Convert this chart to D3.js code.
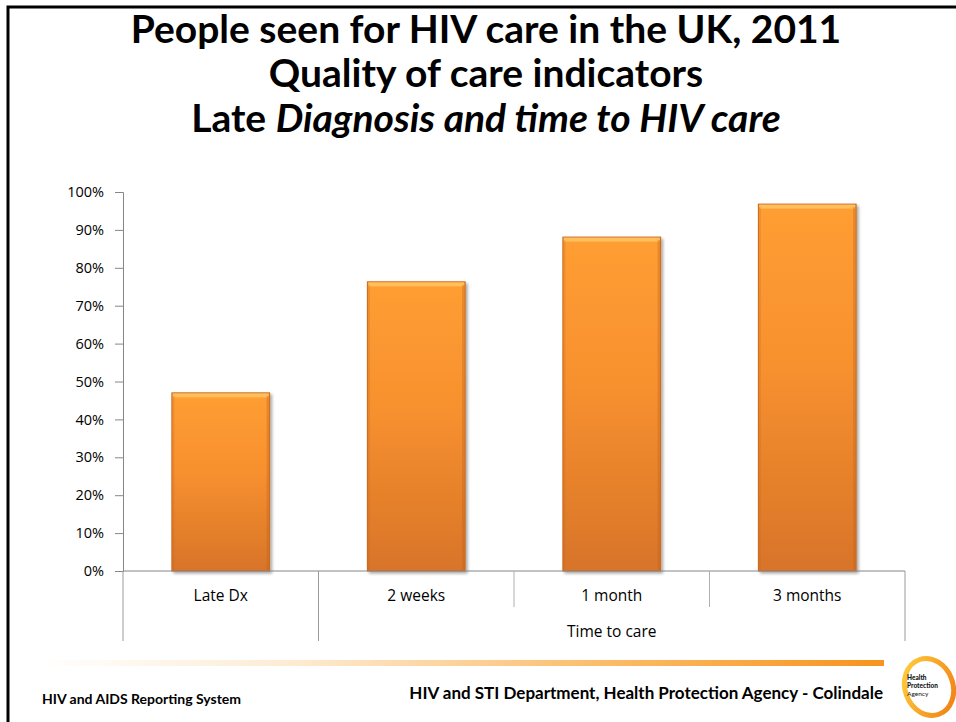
<!DOCTYPE html>
<html>
<head>
<meta charset="utf-8">
<script src="https://cdn.jsdelivr.net/npm/d3@7"></script>
<style>
  html, body { margin: 0; padding: 0; background: #fff; }
  svg { display: block; }
</style>
</head>
<body>
<svg id="chart" width="956" height="722"></svg>
<script>
// Chart data
const categories = ["Late Dx", "2 weeks", "1 month", "3 months"];
const values = [0.47, 0.763, 0.881, 0.968];
const yTicks = [0, 0.1, 0.2, 0.3, 0.4, 0.5, 0.6, 0.7, 0.8, 0.9, 1.0];
const groupLabel = "Time to care";
const titleLines = ["People seen for HIV care in the UK, 2011", "Quality of care indicators"];
const footerLeft = "HIV and AIDS Reporting System";
const footerRight = "HIV and STI Department, Health Protection Agency - Colindale";
const logoLines = ["Health", "Protection", "Agency"];

const svg = d3.select("#chart");
const W = 956, H = 722;
const titleFont = "Lato, 'Open Sans', sans-serif";
const bodyFont = "'Open Sans', 'Noto Sans', sans-serif";

// Slide frame
svg.append("path")
  .attr("d", `M8,${H} L8,7 L${W},7`)
  .attr("fill", "none").attr("stroke", "#000").attr("stroke-width", 3);

// Title
const title = svg.append("g").attr("font-family", titleFont).attr("font-weight", 700)
  .attr("fill", "#000").attr("text-anchor", "middle");
title.append("text").attr("x", 486).attr("y", 43).attr("font-size", 39).text(titleLines[0]);
title.append("text").attr("x", 486).attr("y", 87).attr("font-size", 39).text(titleLines[1]);
const t3 = title.append("text").attr("x", 486).attr("y", 132).attr("font-size", 39);
t3.append("tspan").text("Late ");
t3.append("tspan").attr("font-style", "italic").text("Diagnosis and time to HIV care");

// Scales
const margin = { left: 123, right: 905, top: 192, bottom: 571 };
const x = d3.scaleBand().domain(categories).range([margin.left, margin.right]).paddingInner(0).paddingOuter(0);
const y = d3.scaleLinear().domain([0, 1]).range([margin.bottom, margin.top]);
const barPad = 0.25; // fraction of the band left empty on each side

// Gradients
const defs = svg.append("defs");
const g1 = defs.append("linearGradient").attr("id", "barFill").attr("x1", 0).attr("y1", 0).attr("x2", 0).attr("y2", 1);
g1.append("stop").attr("offset", 0).attr("stop-color", "#FF9E33");
g1.append("stop").attr("offset", 0.45).attr("stop-color", "#F7902E");
g1.append("stop").attr("offset", 1).attr("stop-color", "#D8742A");
const g2 = defs.append("linearGradient").attr("id", "footLine").attr("x1", 0).attr("y1", 0).attr("x2", 1).attr("y2", 0);
g2.append("stop").attr("offset", 0).attr("stop-color", "#FFFFFF");
g2.append("stop").attr("offset", 0.3).attr("stop-color", "#FDEBD2");
g2.append("stop").attr("offset", 0.7).attr("stop-color", "#FBB860");
g2.append("stop").attr("offset", 1).attr("stop-color", "#F7931E");
const shadow = defs.append("filter").attr("id", "barShadow").attr("x", "-10%").attr("y", "-10%").attr("width", "130%").attr("height", "130%");
shadow.append("feGaussianBlur").attr("in", "SourceAlpha").attr("stdDeviation", 1.5);
shadow.append("feOffset").attr("dx", 2).attr("dy", 2).attr("result", "ob");
shadow.append("feComponentTransfer").append("feFuncA").attr("type", "linear").attr("slope", 0.35);
const fm = shadow.append("feMerge");
fm.append("feMergeNode");
fm.append("feMergeNode").attr("in", "SourceGraphic");

// Bars
const bars = svg.append("g");
categories.forEach((c, i) => {
  const bw = x.bandwidth() * (1 - 2 * barPad);
  const bx = x(c) + x.bandwidth() * barPad;
  const by = y(values[i]);
  const bh = y(0) - by;
  const g = bars.append("g");
  g.append("rect").attr("x", bx).attr("y", by).attr("width", bw).attr("height", bh)
    .attr("fill", "url(#barFill)").attr("stroke", "#C9681F").attr("stroke-width", 1)
    .attr("filter", "url(#barShadow)");
  // bevel highlight along the top edge
  g.append("rect").attr("x", bx + 1).attr("y", by + 0.5).attr("width", bw - 2).attr("height", 4)
    .attr("fill", "#FFC766").attr("opacity", 0.8);
  // darker side edges
  g.append("rect").attr("x", bx + bw - 3).attr("y", by + 3).attr("width", 2.5).attr("height", bh - 4)
    .attr("fill", "#B9621E").attr("opacity", 0.35);
  g.append("rect").attr("x", bx + 0.5).attr("y", by + 3).attr("width", 2).attr("height", bh - 4)
    .attr("fill", "#C06820").attr("opacity", 0.25);
});

// Y axis
const yAxis = d3.axisLeft(y).tickValues(yTicks).tickFormat(d3.format(".0%")).tickSize(8).tickPadding(11);
const ya = svg.append("g").attr("transform", `translate(${margin.left},0)`).call(yAxis);
ya.select(".domain").attr("stroke", "#868686");
ya.selectAll(".tick line").attr("stroke", "#868686");
ya.selectAll(".tick text").attr("font-family", bodyFont).attr("font-size", 14.5).attr("fill", "#000");

// X axis baseline and category dividers
const axisColor = "#868686";
svg.append("line").attr("x1", margin.left).attr("x2", margin.right)
  .attr("y1", y(0)).attr("y2", y(0)).attr("stroke", axisColor);
const bounds = categories.map(c => x(c)).concat([margin.right]);
bounds.forEach((bx, i) => {
  const long = (i === 0 || i === 1 || i === bounds.length - 1);
  svg.append("line").attr("x1", bx).attr("x2", bx)
    .attr("y1", y(0)).attr("y2", long ? 641 : 607)
    .attr("stroke", long ? "#9a9a9a" : "#b0b0b0");
});
svg.append("g").selectAll("text").data(categories).join("text")
  .attr("x", d => x(d) + x.bandwidth() / 2).attr("y", 601)
  .attr("text-anchor", "middle").attr("font-family", bodyFont).attr("font-size", 15.5)
  .attr("fill", "#000").text(d => d);
svg.append("text")
  .attr("x", (x(categories[1]) + margin.right) / 2).attr("y", 637)
  .attr("text-anchor", "middle").attr("font-family", bodyFont).attr("font-size", 15.5)
  .attr("fill", "#000").text(groupLabel);

// Footer
svg.append("rect").attr("x", 40).attr("y", 660).attr("width", 844).attr("height", 6).attr("fill", "url(#footLine)");
svg.append("text").attr("x", 42).attr("y", 704).attr("font-family", titleFont).attr("font-weight", 700)
  .attr("font-size", 14).attr("fill", "#000").text(footerLeft);
svg.append("text").attr("x", 883).attr("y", 699).attr("text-anchor", "end").attr("font-family", titleFont)
  .attr("font-weight", 700).attr("font-size", 17).attr("fill", "#000").text(footerRight);

// Logo: orange swirl with agency name
const logo = svg.append("g").attr("transform", "translate(929,687) rotate(-20)");
const lg = defs.append("linearGradient").attr("id", "logoRing").attr("x1", 0).attr("y1", 0).attr("x2", 1).attr("y2", 1);
lg.append("stop").attr("offset", 0).attr("stop-color", "#FFD23F");
lg.append("stop").attr("offset", 1).attr("stop-color", "#F07A12");
logo.append("ellipse").attr("rx", 24).attr("ry", 29).attr("fill", "none")
  .attr("stroke", "url(#logoRing)").attr("stroke-width", 5);
const lt = svg.append("g").attr("font-family", titleFont).attr("fill", "#111");
logoLines.forEach((s, i) => {
  lt.append("text").attr("x", 907).attr("y", 680 + i * 8).attr("font-size", 6.5)
    .attr("font-weight", i === 2 ? 400 : 900).text(s);
});
</script>
</body>
</html>
